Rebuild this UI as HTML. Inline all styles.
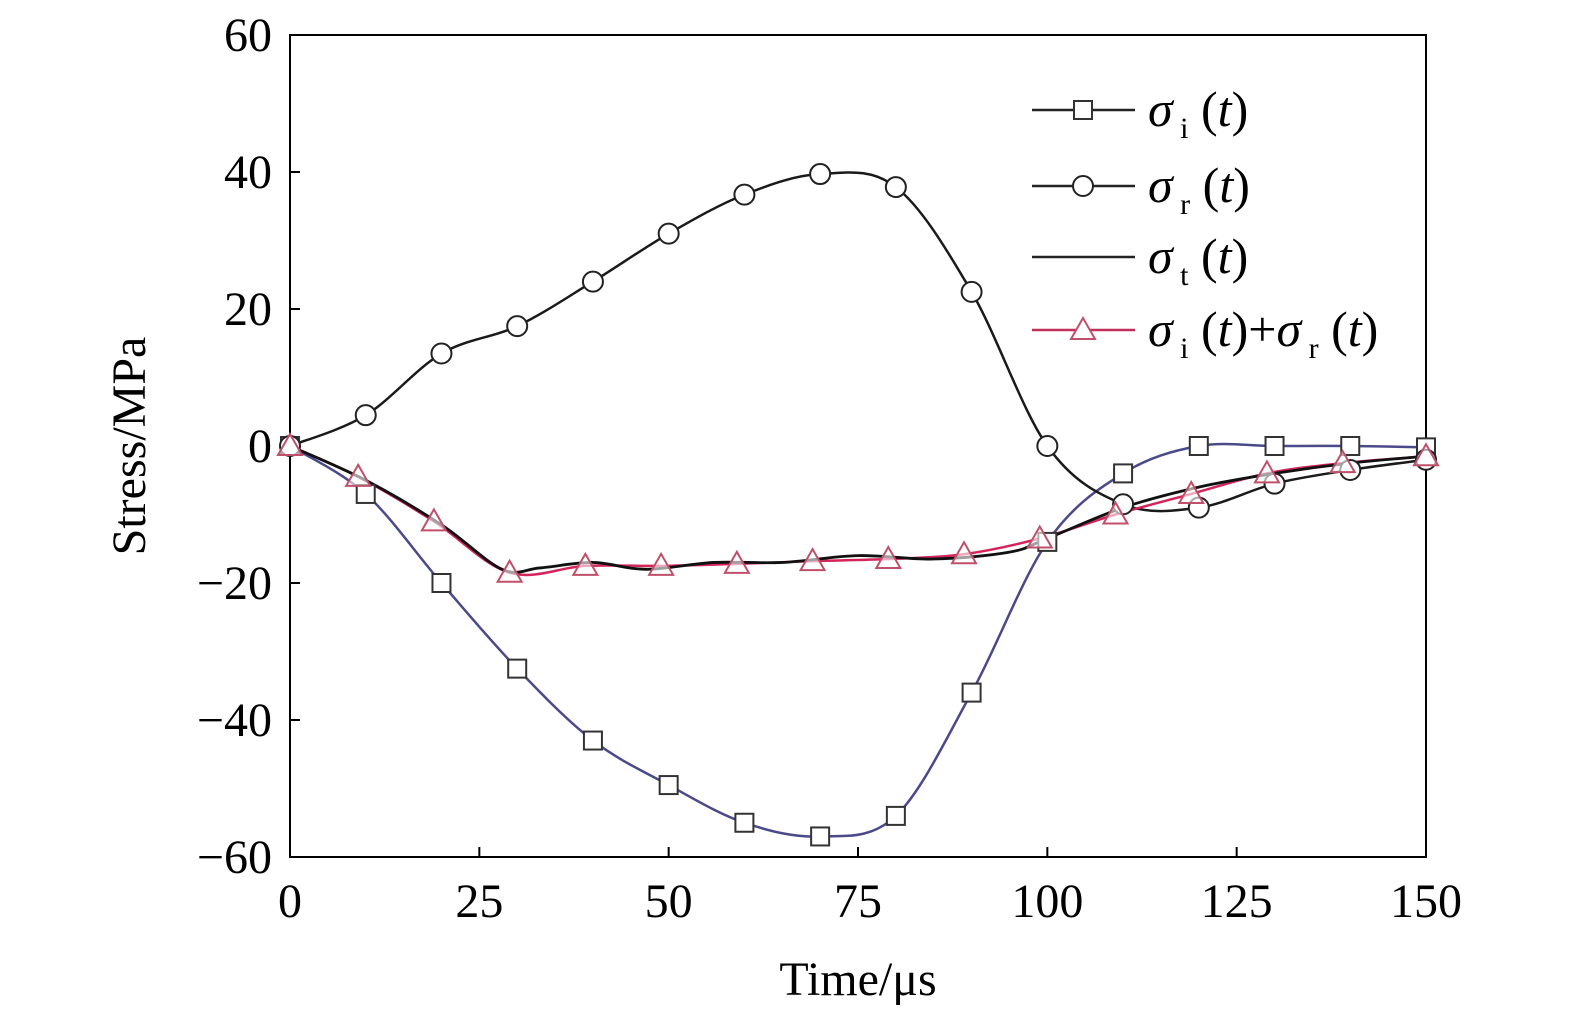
<!DOCTYPE html>
<html><head><meta charset="utf-8"><style>
body{margin:0;background:#fff;}
svg{display:block;font-family:"Liberation Serif",serif;}
</style></head><body>
<svg id="c" width="1575" height="1024" viewBox="0 0 1575 1024"></svg>
<script>
const tMarks=[0,10,20,30,40,50,60,70,80,90,100,110,120,130,140,150];
const sigmaI=[0,-7,-20,-32.5,-43,-49.5,-55,-57,-54,-36,-14,-4,0,0,0,-0.2];
const sigmaR=[0,4.5,13.5,17.5,24,31,36.7,39.7,37.8,22.5,0,-8.5,-9,-5.5,-3.5,-2];
const tT=[0,10,20,28,33,40,47,56,65,75,85,95,100,110,120,130,140,150];
const sigmaT=[0,-5,-11.5,-18,-17.8,-17,-18,-17,-17,-16,-16.5,-15.5,-13.5,-9,-6,-4,-2.5,-1.5];
const tS=[0,9,19,29,39,49,59,69,79,89,99,109,119,129,139,150];
const sigmaSum=[0,-4.5,-11,-18.5,-17.5,-17.5,-17.2,-16.8,-16.5,-15.8,-13.5,-10,-7,-4,-2.5,-1.5];
const xTicks=[0,25,50,75,100,125,150];
const yTicks=[-60,-40,-20,0,20,40,60];
const X0=290,X1=1426,Y0=857,Y1=35;
const sx=v=>X0+(v-0)/150*(X1-X0);
const sy=v=>Y0-(v+60)/120*(Y0-Y1);
const svg=document.getElementById('c');
const NS='http://www.w3.org/2000/svg';
function mk(tag,attrs,parent){const e=document.createElementNS(NS,tag);for(const k in attrs)e.setAttribute(k,attrs[k]);(parent||svg).appendChild(e);return e;}
function path(xs,ys){const p=xs.map((x,i)=>[sx(x),sy(ys[i])]);let d='M'+p[0][0]+','+p[0][1];
for(let i=0;i<p.length-1;i++){const a=p[Math.max(0,i-1)],b=p[i],c=p[i+1],e=p[Math.min(p.length-1,i+2)];
d+=` C${b[0]+(c[0]-a[0])/6},${b[1]+(c[1]-a[1])/6} ${c[0]-(e[0]-b[0])/6},${c[1]-(e[1]-b[1])/6} ${c[0]},${c[1]}`;}return d;}
const frame=mk('rect',{x:X0,y:Y1,width:X1-X0,height:Y0-Y1,fill:'none',stroke:'#000','stroke-width':2});


xTicks.forEach(v=>{
 mk('line',{x1:sx(v),x2:sx(v),y1:Y0,y2:Y0-10,stroke:'#000','stroke-width':2});
 const t=mk('text',{x:sx(v),y:917,'font-size':48,'text-anchor':'middle'});t.textContent=v;
 
 
});
yTicks.forEach(v=>{
 mk('line',{x1:X0,x2:X0+10,y1:sy(v),y2:sy(v),stroke:'#000','stroke-width':2});
 const t=mk('text',{x:272,y:sy(v)+16,'font-size':48,'text-anchor':'end'});t.textContent=(v<0?'\u2212':'')+Math.abs(v);
 
 
});
const xt=mk('text',{x:858,y:995,'font-size':48,'text-anchor':'middle'});xt.textContent='Time/μs';


const yt=mk('text',{x:0,y:0,'font-size':48,'text-anchor':'middle',transform:'translate(145,446) rotate(-90)'});yt.textContent='Stress/MPa';


const li=mk('path',{d:path(tMarks,sigmaI),fill:'none',stroke:'#4a4a8a','stroke-width':2.5});


const lr=mk('path',{d:path(tMarks,sigmaR),fill:'none',stroke:'#1a1a1a','stroke-width':2.5});


const ls=mk('path',{d:path(tS,sigmaSum),fill:'none',stroke:'#d4245a','stroke-width':2.5});


const lt=mk('path',{d:path(tT,sigmaT),fill:'none',stroke:'#111','stroke-width':2.8});


function sq(x,y,n){const r=mk('rect',{x:x-9,y:y-9,width:18,height:18,fill:'#fff',stroke:'#333','stroke-width':2});}
function ci(x,y,n){const r=mk('circle',{cx:x,cy:y,r:10,fill:'#fff',stroke:'#222','stroke-width':2});}
function tr(x,y,n){const r=mk('polygon',{points:`${x},${y-12} ${x-12},${y+9} ${x+12},${y+9}`,fill:'#fff','fill-opacity':0.6,stroke:'#c0506a','stroke-width':2});}
tMarks.forEach((t,i)=>sq(sx(t),sy(sigmaI[i]),'sigma-i-marker'));
tMarks.forEach((t,i)=>ci(sx(t),sy(sigmaR[i]),'sigma-r-marker'));
tS.forEach((t,i)=>tr(sx(t),sy(sigmaSum[i]),'sigma-sum-marker'));
const labels=[['i'],['r'],['t'],['i']];
const ly=[110,186,257,330];
ly.forEach((y,k)=>{
 const g=mk('g',{});
 
 
 mk('line',{x1:1032,x2:1135,y1:y,y2:y,stroke:k==3?'#c0305a':'#222','stroke-width':2.5},g);
 if(k==0){mk('rect',{x:1074,y:y-9,width:18,height:18,fill:'#fff',stroke:'#333','stroke-width':2},g);}
 if(k==1){mk('circle',{cx:1083,cy:y,r:10,fill:'#fff',stroke:'#222','stroke-width':2},g);}
 if(k==3){mk('polygon',{points:`1083,${y-12} 1071,${y+9} 1095,${y+9}`,fill:'#fff',stroke:'#c0506a','stroke-width':2},g);}
 const t=mk('text',{x:1148,y:y+16,'font-size':50},g);
 let h=`<tspan font-style="italic">σ</tspan><tspan font-size="30" dy="12"> ${labels[k][0]}</tspan><tspan dy="-12"> (</tspan><tspan font-style="italic">t</tspan><tspan>)</tspan>`;
 if(k==3)h+=`<tspan>+</tspan><tspan font-style="italic">σ</tspan><tspan font-size="30" dy="12"> r</tspan><tspan dy="-12"> (</tspan><tspan font-style="italic">t</tspan><tspan>)</tspan>`;
 t.innerHTML=h;
});
</script>
</body></html>
